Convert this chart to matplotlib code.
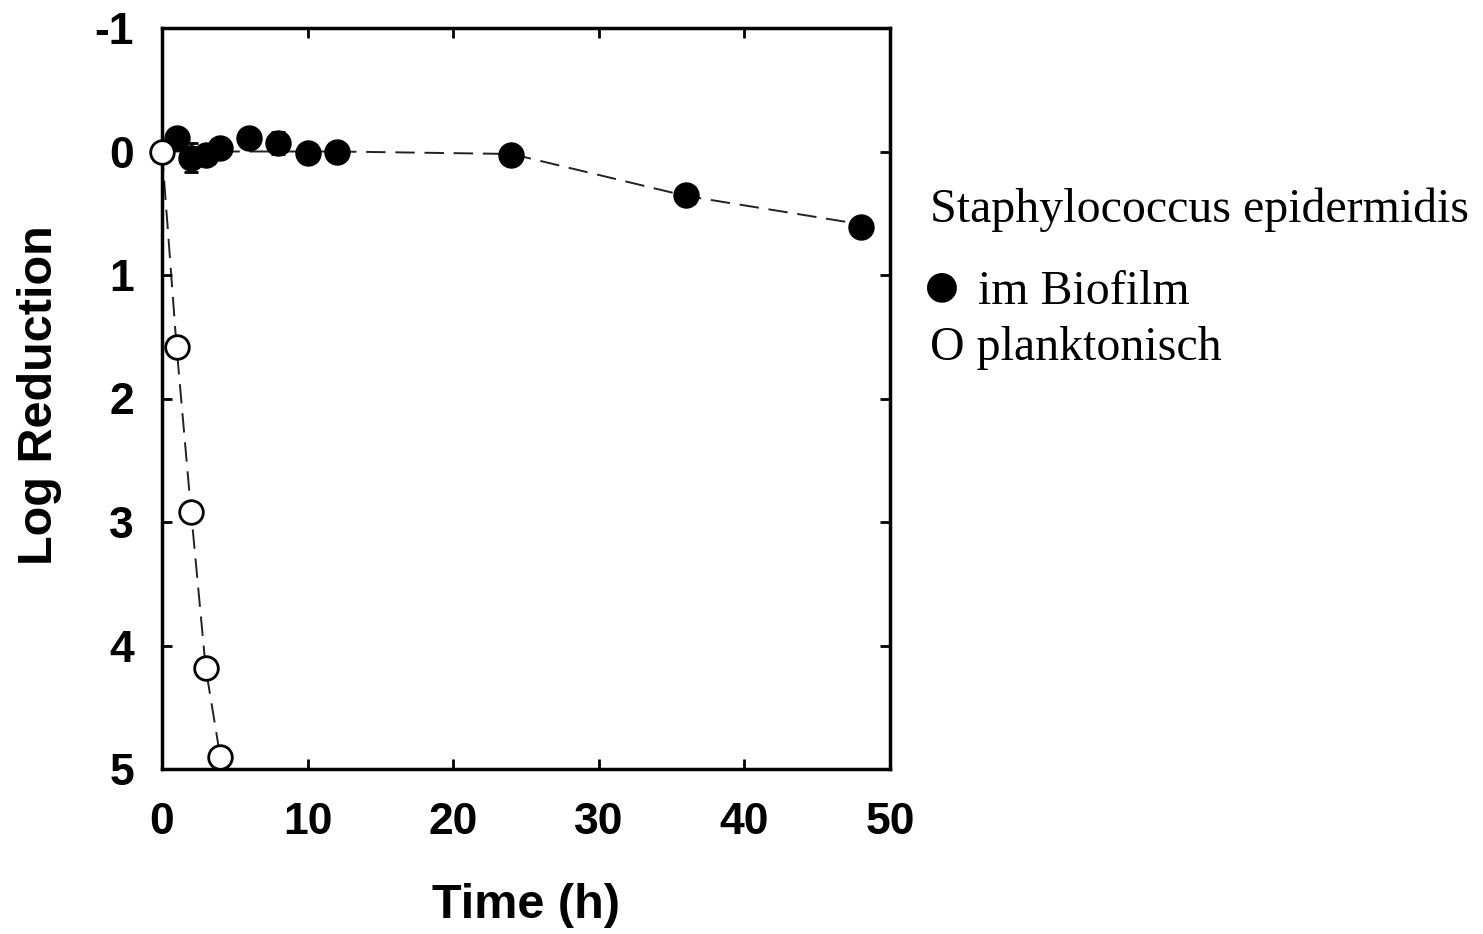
import matplotlib
matplotlib.use("Agg")
import matplotlib.pyplot as plt

plt.rcParams["axes.unicode_minus"] = False

# biofilm (filled)
t_bio = [1, 2, 3, 4, 6, 8, 10, 12, 24, 36, 48]
lr_bio = [-0.11, 0.05, 0.03, -0.03, -0.11, -0.07, 0.01, 0.0, 0.03, 0.35, 0.61]
err_bio = [0, 0.12, 0, 0, 0, 0.09, 0, 0, 0, 0, 0.05]

# dashed trend line through the biofilm data
t_fit = [0, 12, 24, 36, 47]
lr_fit = [0.0, 0.0, 0.02, 0.36, 0.57]

# planktonic (open)
t_pl = [0, 1, 2, 3, 4]
lr_pl = [0.0, 1.58, 2.92, 4.18, 4.9]

W, H = 1483, 934
fig = plt.figure(figsize=(W / 100, H / 100), dpi=100)
ax = fig.add_axes([162 / W, 1 - 769 / H, 728 / W, 741 / H])

ax.plot(t_fit, lr_fit, color="#222222", lw=1.4, dashes=(10, 5), zorder=1)
ax.plot(t_pl, lr_pl, color="#222222", lw=1.4, dashes=(10, 5), zorder=1)
ax.errorbar(t_bio, lr_bio, yerr=err_bio, fmt="o", color="black", ms=18,
            elinewidth=2, capsize=5, capthick=2, zorder=3)
ax.plot(t_pl, lr_pl, "o", mfc="white", mec="black", mew=2, ms=17, ls="none",
        zorder=4, clip_on=False)

ax.set_xlim(0, 50)
ax.set_ylim(5, -1)
ax.set_xticks([0, 10, 20, 30, 40, 50])
ax.set_yticks([-1, 0, 1, 2, 3, 4, 5])
for s in ax.spines.values():
    s.set_linewidth(2.5)
ax.tick_params(direction="in", length=7, width=2, top=True, right=True,
               labelsize=32, pad=24)
ax.tick_params(axis="y", pad=20)
for lab in ax.get_xticklabels() + ax.get_yticklabels():
    lab.set_fontfamily("Liberation Sans")
    lab.set_fontweight("bold")

fig.text(40 / W, 1 - 395 / H, "Log Reduction", rotation=90, ha="center",
         va="center", fontsize=35, fontweight="bold", family="Liberation Sans")
fig.text(526 / W, 1 - 905 / H, "Time (h)", ha="center", va="center",
         fontsize=35, fontweight="bold", family="Liberation Sans")

serif = ["Liberation Serif", "DejaVu Serif"]
fig.text(930 / W, 1 - 222 / H, "Staphylococcus epidermidis", fontsize=34.5,
         family=serif, va="baseline")
fig.text(942 / W, 1 - 290 / H, "\u25cf", fontsize=50, family=serif,
         ha="center", va="center")
fig.text(978 / W, 1 - 304 / H, "im Biofilm", fontsize=34.5,
         family=serif, va="baseline")
fig.text(930 / W, 1 - 360 / H, "O planktonisch", fontsize=34.5,
         family=serif, va="baseline")

fig.savefig("out.png", dpi=100)
